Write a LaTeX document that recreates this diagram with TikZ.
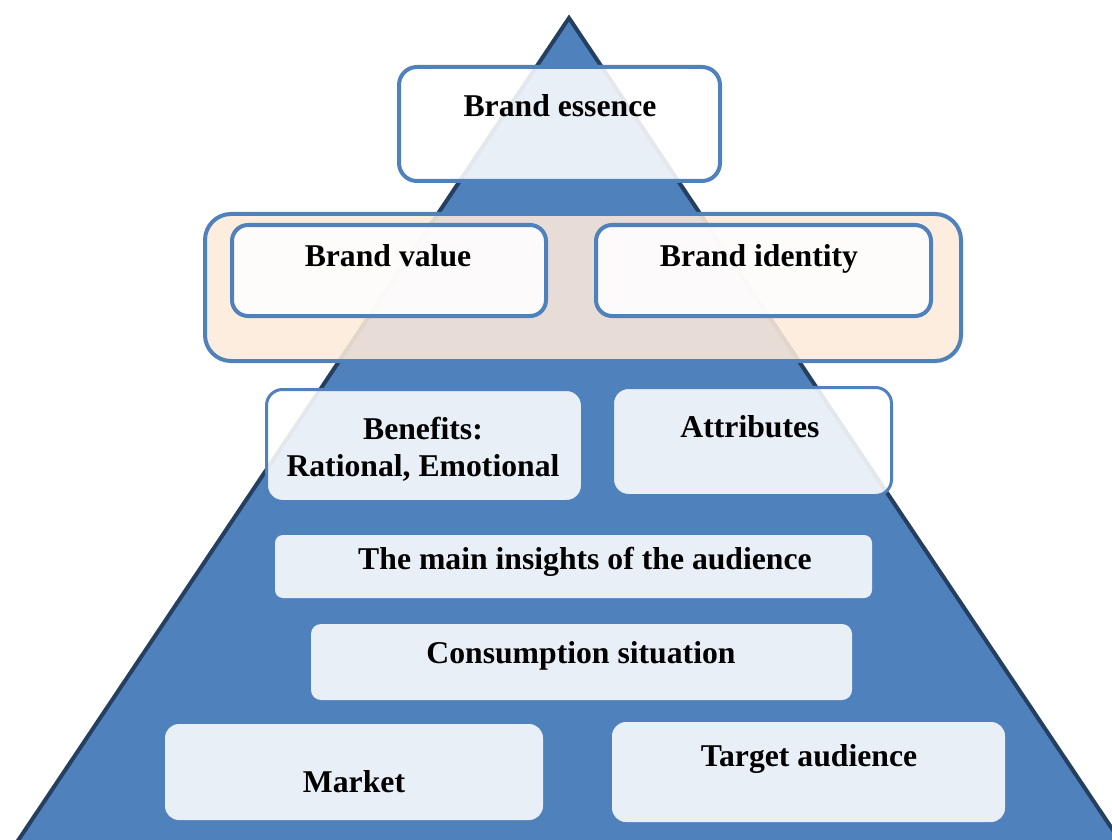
\documentclass[tikz,border=0pt]{standalone}
\usepackage{fontspec}
\setmainfont{Liberation Serif}
\definecolor{triblue}{HTML}{4F81BD}
\definecolor{navy}{HTML}{243F60}
\definecolor{boxblue}{HTML}{4F81BD}
\definecolor{peach}{HTML}{FDEADA}
\begin{document}
\begin{tikzpicture}[x=1pt,y=-1pt,
  box/.style={draw=boxblue, line width=4pt, fill=white, fill opacity=0.88, draw opacity=1, rounded corners=18pt, inner sep=0pt, outer sep=0pt},
  thinbox/.style={box, line width=3pt, rounded corners=16pt},
  plainbox/.style={fill=white, fill opacity=0.88, rounded corners=14pt, inner sep=0pt, outer sep=0pt},
  container/.style={draw=boxblue, line width=4pt, fill=peach, fill opacity=0.88, draw opacity=1, rounded corners=26pt, inner sep=0pt, outer sep=0pt},
  lbl/.style={font=\bfseries\fontsize{31.7}{36}\selectfont, anchor=base, inner sep=0pt, text opacity=1, align=center}]
\useasboundingbox (0,0) rectangle (1112,840);
\clip (0,0) rectangle (1112,840);
\coordinate (apex) at (569,18);
\coordinate (bl) at (5,860);
\coordinate (br) at (1133,860);
\draw[line width=4pt, draw=navy, fill=triblue, line join=miter] (apex) -- (bl) -- (br) -- cycle;
% boxes
\node[box, minimum width=321pt, minimum height=114pt] (essence) at (559.5,124) {};
\node[container, minimum width=756pt, minimum height=147pt] (core) at (583,287.5) {};
\node[box, rounded corners=16pt, minimum width=314pt, minimum height=91pt] (value) at (389,270.5) {};
\node[box, rounded corners=16pt, minimum width=335pt, minimum height=91pt] (identity) at (763.5,270.5) {};
\node[thinbox, minimum width=316pt, minimum height=112pt] (benefits) at (424.5,445.5) {};
\node[thinbox, minimum width=279pt, minimum height=108pt] (attributes) at (752,441.5) {};
\node[plainbox, rounded corners=8pt, minimum width=597pt, minimum height=63pt] (insights) at (573.5,566.5) {};
\node[plainbox, rounded corners=10pt, minimum width=541pt, minimum height=76pt] (consumption) at (581.5,662) {};
\node[plainbox, minimum width=378pt, minimum height=96pt] (market) at (354,772) {};
\node[plainbox, minimum width=393pt, minimum height=100pt] (target) at (808.5,772) {};
% labels
\node[lbl] (tEssence) at (560,117) {Brand essence};
\node[lbl] (tValue) at (388,266) {Brand value};
\node[lbl] (tIdentity) at (759,266) {Brand identity};
\node[lbl] (tBenefits1) at (423,439) {Benefits:};
\node[lbl] (tBenefits2) at (423,476) {Rational, Emotional};
\node[lbl] (tAttributes) at (750,437) {Attributes};
\node[lbl] (tInsights) at (585,569) {The main insights of the audience};
\node[lbl] (tConsumption) at (581,663) {Consumption situation};
\node[lbl] (tTarget) at (809,766) {Target audience};
\node[lbl] (tMarket) at (354,792) {Market};
\end{tikzpicture}
\end{document}
